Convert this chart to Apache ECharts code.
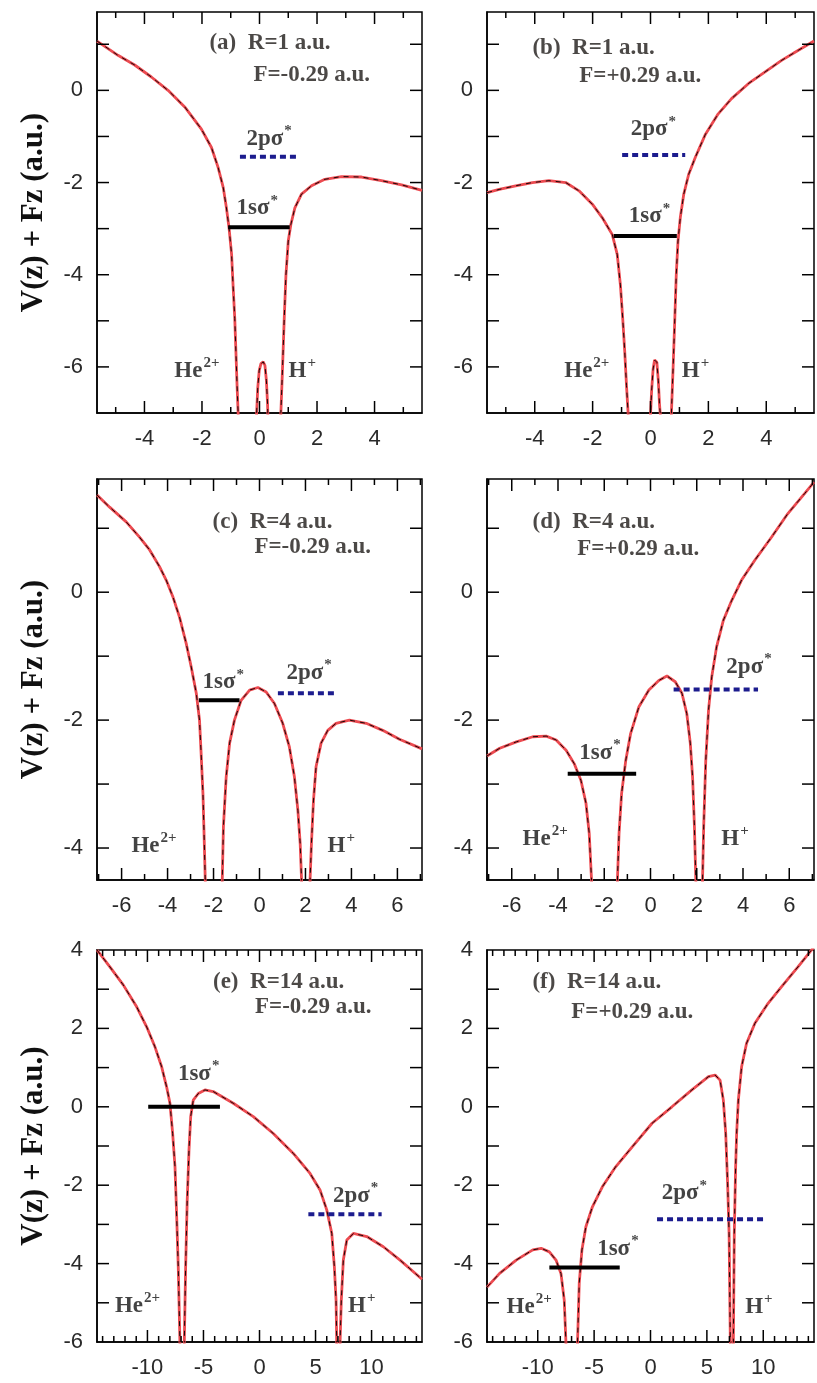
<!DOCTYPE html>
<html>
<head>
<meta charset="utf-8">
<script src="https://cdn.jsdelivr.net/npm/echarts@6/dist/echarts.min.js"></script>
<style>
  html, body { margin: 0; padding: 0; background: #fff; }
  #chart { width: 817px; height: 1383px; }
</style>
</head>
<body>
<div id="chart"></div>
<script>
// Potential curves V(z) + Fz, [z, value] pairs in atomic units.
// Points below the axis minimum mark where the curve leaves through the nuclear dips.
const curveA = [
  [-5.65, 1.07], [-4.92, 0.76], [-4.34, 0.55], [-3.76, 0.29], [-3.18, 0.0], [-2.60, -0.36],
  [-2.02, -0.84], [-1.67, -1.24], [-1.44, -1.67], [-1.26, -2.11], [-1.15, -2.55], [-1.06, -2.98],
  [-0.97, -3.56], [-0.92, -4.22], [-0.86, -4.95], [-0.82, -5.67], [-0.78, -6.40], [-0.74, -7.04], [-0.71, -7.5],
  [-0.12, -7.5], [-0.10, -7.0], [-0.06, -6.45], [-0.01, -6.08], [0.05, -5.93], [0.13, -5.89], [0.19, -5.97],
  [0.24, -6.3], [0.28, -6.8], [0.31, -7.5],
  [0.72, -7.5], [0.74, -7.05], [0.80, -6.04], [0.86, -4.95], [0.92, -4.0], [1.00, -3.27], [1.09, -2.91],
  [1.23, -2.55], [1.46, -2.25], [1.81, -2.07], [2.27, -1.93], [2.85, -1.87], [3.55, -1.88], [4.24, -1.96],
  [4.94, -2.05], [5.65, -2.17]
];
const curveB = [
  [-5.65, -2.22], [-5.23, -2.15], [-4.66, -2.07], [-4.08, -2.0], [-3.51, -1.96], [-2.93, -2.0], [-2.47, -2.18],
  [-2.01, -2.47], [-1.67, -2.76], [-1.32, -3.13], [-1.15, -3.56], [-1.04, -4.22], [-0.96, -4.95], [-0.89, -5.67],
  [-0.83, -6.40], [-0.77, -7.04], [-0.74, -7.5],
  [-0.02, -7.5], [0.0, -7.04], [0.04, -6.5], [0.09, -6.05], [0.14, -5.85], [0.18, -5.82], [0.22, -5.9],
  [0.27, -6.3], [0.31, -6.8], [0.34, -7.04], [0.36, -7.5],
  [0.70, -7.5], [0.72, -7.04], [0.78, -6.04], [0.84, -4.95], [0.89, -4.0], [0.95, -3.27], [1.03, -2.76],
  [1.15, -2.25], [1.32, -1.82], [1.55, -1.45], [1.90, -0.95], [2.34, -0.51], [2.80, -0.18], [3.39, 0.15],
  [3.96, 0.40], [4.53, 0.65], [5.11, 0.87], [5.65, 1.07]
];
const curveC = [
  [-7.07, 1.52], [-6.52, 1.33], [-5.80, 1.10], [-5.22, 0.86], [-4.78, 0.66], [-4.35, 0.40], [-4.06, 0.19],
  [-3.77, -0.07], [-3.48, -0.39], [-3.19, -0.80], [-2.97, -1.17], [-2.75, -1.58], [-2.61, -2.0], [-2.54, -2.52],
  [-2.46, -3.15], [-2.42, -3.67], [-2.36, -4.5], [-2.33, -5.0],
  [-1.65, -5.0], [-1.62, -4.5], [-1.57, -3.67], [-1.45, -2.89], [-1.30, -2.36], [-1.09, -2.0], [-0.80, -1.69],
  [-0.43, -1.53], [-0.07, -1.49], [0.29, -1.56], [0.65, -1.74], [1.01, -2.05], [1.30, -2.42], [1.52, -2.89],
  [1.67, -3.41], [1.77, -3.93], [1.83, -4.5], [1.86, -5.0],
  [2.17, -5.0], [2.20, -4.5], [2.26, -3.93], [2.35, -3.25], [2.46, -2.73], [2.68, -2.36], [2.97, -2.16],
  [3.33, -2.05], [3.91, -2.0], [4.64, -2.05], [5.36, -2.16], [6.09, -2.30], [7.07, -2.45]
];
const curveD = [
  [-7.07, -2.56], [-6.52, -2.44], [-5.80, -2.34], [-5.09, -2.26], [-4.51, -2.25], [-4.08, -2.31], [-3.65, -2.47],
  [-3.30, -2.68], [-3.01, -2.94], [-2.79, -3.30], [-2.65, -3.77], [-2.55, -4.5], [-2.52, -5.0],
  [-1.46, -5.0], [-1.43, -4.5], [-1.36, -3.77], [-1.25, -3.15], [-1.07, -2.63], [-0.86, -2.21], [-0.50, -1.79],
  [-0.07, -1.53], [0.36, -1.38], [0.71, -1.31], [1.07, -1.40], [1.36, -1.58], [1.57, -1.90], [1.72, -2.36],
  [1.82, -2.89], [1.90, -3.67], [1.96, -4.5], [1.98, -5.0],
  [2.23, -5.0], [2.25, -4.5], [2.30, -3.67], [2.39, -2.63], [2.51, -1.84], [2.65, -1.32], [2.86, -0.85],
  [3.15, -0.44], [3.51, -0.13], [3.94, 0.19], [4.51, 0.50], [5.23, 0.86], [5.94, 1.23], [6.66, 1.54], [7.07, 1.72]
];
const curveE = [
  [-14.5, 4.0], [-13.35, 3.57], [-12.16, 3.11], [-10.96, 2.55], [-10.07, 2.04], [-9.33, 1.53], [-8.73, 1.02],
  [-8.29, 0.51], [-7.99, 0.09], [-7.75, -0.68], [-7.54, -1.53], [-7.39, -2.80], [-7.25, -4.08], [-7.10, -6.0], [-7.07, -6.5],
  [-6.74, -6.5], [-6.71, -6.0], [-6.59, -4.08], [-6.45, -2.38], [-6.29, -1.10], [-6.14, -0.25], [-5.91, 0.17],
  [-5.46, 0.34], [-4.87, 0.43], [-4.13, 0.39], [-2.34, 0.09], [-0.55, -0.25], [1.23, -0.68], [3.02, -1.19],
  [4.51, -1.70], [5.40, -2.12], [6.00, -2.63], [6.45, -3.23], [6.68, -4.08], [6.83, -4.93], [6.89, -6.0], [6.91, -6.5],
  [7.17, -6.5], [7.19, -6.0], [7.30, -4.93], [7.48, -3.91], [7.79, -3.40], [8.38, -3.23], [9.57, -3.31],
  [11.05, -3.57], [12.54, -3.91], [14.5, -4.4]
];
const curveF = [
  [-14.5, -4.6], [-13.38, -4.25], [-11.91, -3.91], [-10.44, -3.65], [-9.70, -3.61], [-8.97, -3.70], [-8.38, -3.91],
  [-7.94, -4.25], [-7.65, -4.93], [-7.50, -6.0], [-7.47, -6.5],
  [-6.50, -6.5], [-6.47, -6.0], [-6.32, -4.50], [-6.08, -3.65], [-5.73, -3.06], [-5.15, -2.55], [-4.27, -2.04],
  [-3.09, -1.53], [-1.62, -1.02], [0.14, -0.42], [1.90, 0.0], [3.67, 0.43], [5.14, 0.77], [5.73, 0.81],
  [6.17, 0.68], [6.46, 0.17], [6.67, -0.68], [6.84, -1.96], [6.97, -3.23], [7.08, -6.0], [7.10, -6.5],
  [7.33, -6.5], [7.35, -6.0], [7.43, -3.23], [7.55, -1.53], [7.64, -0.68], [7.79, 0.17], [8.08, 1.02],
  [8.52, 1.62], [9.26, 2.13], [10.43, 2.64], [11.61, 3.06], [13.08, 3.57], [14.5, 4.08]
];

// Quasi-static levels per panel: energy and z extent.
const level1sE = [-2.97, -3.16, -1.69, -2.84, 0.0, -4.10];
const level1sZ = [[-1.09, 1.05], [-1.27, 0.91], [-2.64, -0.87], [-3.58, -0.62], [-9.93, -3.53], [-8.97, -2.73]];
const level2pE = [-1.44, -1.40, -1.58, -1.52, -2.74, -2.87];
const level2pZ = [[-0.68, 1.40], [-0.98, 1.20], [0.80, 3.26], [1.00, 4.65], [4.36, 10.9], [0.58, 10.1]];

// Panel captions
const panelTags = ['(a)', '(b)', '(c)', '(d)', '(e)', '(f)'];
const separations = ['R=1 a.u.', 'R=1 a.u.', 'R=4 a.u.', 'R=4 a.u.', 'R=14 a.u.', 'R=14 a.u.'];
const fields = ['F=-0.29 a.u.', 'F=+0.29 a.u.', 'F=-0.29 a.u.', 'F=+0.29 a.u.', 'F=-0.29 a.u.', 'F=+0.29 a.u.'];

// Axis extents and tick steps
const xRanges = [[-5.65, 5.65], [-5.65, 5.65], [-7.07, 7.07], [-7.07, 7.07], [-14.5, 14.5], [-14.5, 14.5]];
const yRanges = [[-7, 1.7], [-7, 1.7], [-4.5, 1.77], [-4.5, 1.77], [-6, 4], [-6, 4]];
const xMajorStep = [2, 2, 2, 2, 5, 5];
const yLabelStep = 2;
const yAxisTitle = 'V(z) + Fz (a.u.)';

// Text anchors (left edge, vertical middle) in data coordinates
const tagPos   = [[-1.74, 1.03], [-4.08, 0.91], [-2.04, 1.10], [-5.10, 1.10], [-4.15, 3.18], [-10.47, 3.18]];
const fieldPos = [[-0.21, 0.34], [-2.46, 0.31], [-0.22, 0.70], [-3.17, 0.67], [-0.40, 2.55], [-7.03, 2.41]];
const s1Pos    = [[-0.80, -2.56], [-0.75, -2.73], [-2.48, -1.41], [-3.08, -2.51], [-7.28, 0.84], [-4.73, -3.63]];
const p2Pos    = [[-0.45, -1.05], [-0.68, -0.85], [1.17, -1.26], [3.28, -1.17], [6.56, -2.27], [1.00, -2.21]];
const hePos    = [[-2.96, -6.09], [-2.98, -6.09], [-5.57, -3.97], [-5.53, -3.86], [-12.9, -5.08], [-12.76, -5.10]];
const hPos     = [[1.01, -6.09], [1.08, -6.09], [2.96, -3.97], [3.06, -3.86], [7.9, -5.08], [8.40, -5.10]];

const curves = [curveA, curveB, curveC, curveD, curveE, curveF];

const gridBoxes = [
  { left: 97,  top: 12,  width: 325, height: 401 },
  { left: 487, top: 12,  width: 329, height: 401 },
  { left: 97,  top: 479, width: 325, height: 401 },
  { left: 487, top: 479, width: 329, height: 401 },
  { left: 97,  top: 950, width: 325, height: 392 },
  { left: 487, top: 950, width: 329, height: 392 }
];

const serif = '"Liberation Serif", "Times New Roman", serif';
const sans = '"Liberation Sans", Arial, Helvetica, sans-serif';
const MAJOR_LEN = 12, MINOR_LEN = 6;

function isInt(v) { return Math.abs(v - Math.round(v)) < 1e-6; }
function frameLine() { return { show: true, onZero: false, lineStyle: { color: '#000', width: 1.5 } }; }

const richText = {
  m: { fontFamily: serif, fontWeight: 'bold', fontSize: 23, lineHeight: 30, color: '#141414' },
  s: { fontFamily: serif, fontWeight: 'bold', fontSize: 15, lineHeight: 15, verticalAlign: 'top', color: '#141414', padding: [0, 0, 0, 1] },
  c: { fontFamily: serif, fontWeight: 'bold', fontSize: 23, lineHeight: 30, color: '#1e1a18' }
};

// Inward tick marks on all four sides of a panel, placed through the panel's axes.
function tickMarks(i, ax) {
  const [x0, x1] = xRanges[i], [y0, y1] = yRanges[i];
  const items = [];
  for (let v = Math.ceil(x0); v <= x1; v++) {
    if (v > x0 && v < x1) items.push([v, v % xMajorStep[i] === 0 ? 1 : 0, 0]);
  }
  for (let v = Math.ceil(y0); v <= y1; v++) {
    if (v > y0 && v < y1) items.push([v, 1, 1]);
  }
  return Object.assign({
    type: 'custom', silent: true, z: 6, clip: false, data: items,
    renderItem: (params, api) => {
      const v = api.value(0), major = api.value(1), dir = api.value(2);
      const len = major ? MAJOR_LEN : MINOR_LEN;
      const st = { stroke: '#000', lineWidth: 1.5 };
      if (dir === 0) {
        const b = api.coord([v, y0]), t = api.coord([v, y1]);
        return { type: 'group', children: [
          { type: 'line', shape: { x1: b[0], y1: b[1], x2: b[0], y2: b[1] - len }, style: st },
          { type: 'line', shape: { x1: t[0], y1: t[1], x2: t[0], y2: t[1] + len }, style: st }
        ] };
      }
      const l = api.coord([x0, v]), r = api.coord([x1, v]);
      return { type: 'group', children: [
        { type: 'line', shape: { x1: l[0], y1: l[1], x2: l[0] + len, y2: l[1] }, style: st },
        { type: 'line', shape: { x1: r[0], y1: r[1], x2: r[0] - len, y2: r[1] }, style: st }
      ] };
    }
  }, ax);
}

const grids = [], xAxes = [], yAxes = [], series = [];

gridBoxes.forEach((box, i) => {
  grids.push(Object.assign({
    show: true, borderColor: '#000', borderWidth: 1.5, containLabel: false
  }, box));

  const step = xMajorStep[i];
  xAxes.push({
    gridIndex: i, type: 'value', position: 'bottom', min: xRanges[i][0], max: xRanges[i][1],
    minInterval: step, maxInterval: step,
    axisLine: frameLine(), axisTick: { show: false }, minorTick: { show: false },
    splitLine: { show: false },
    axisLabel: {
      show: true, margin: 15, fontFamily: sans, fontSize: 22, color: '#2a2a2a',
      formatter: v => (isInt(v) && Math.round(v) % step === 0) ? String(Math.round(v)) : ''
    }
  });

  const yLeft = {
    gridIndex: i, type: 'value', position: 'left', min: yRanges[i][0], max: yRanges[i][1],
    minInterval: 1, maxInterval: 1,
    axisLine: frameLine(), axisTick: { show: false }, splitLine: { show: false },
    axisLabel: {
      show: true, margin: 14, fontFamily: sans, fontSize: 22, color: '#2a2a2a',
      formatter: v => (isInt(v) && Math.round(v) % yLabelStep === 0) ? String(Math.round(v)) : ''
    }
  };
  if (i % 2 === 0) {
    Object.assign(yLeft, {
      name: yAxisTitle, nameLocation: 'middle', nameRotate: 90, nameGap: 48,
      nameTextStyle: { fontFamily: serif, fontWeight: 'bold', fontSize: 31, color: '#111' }
    });
  }
  yAxes.push(yLeft);

  const ax = { xAxisIndex: i, yAxisIndex: i };

  // potential curve: red line with a black dashed overlay
  series.push(Object.assign({
    type: 'line', data: curves[i], symbol: 'none', clip: true, silent: true,
    lineStyle: { color: '#ec4a50', width: 2.8 }, z: 2
  }, ax));
  series.push(Object.assign({
    type: 'line', data: curves[i], symbol: 'none', clip: true, silent: true,
    lineStyle: { color: '#000', width: 0.9, type: [5, 5] }, z: 3
  }, ax));

  // 1sσ* level (solid) and 2pσ* level (dashed)
  series.push(Object.assign({
    type: 'line', symbol: 'none', silent: true, z: 4,
    data: [[level1sZ[i][0], level1sE[i]], [level1sZ[i][1], level1sE[i]]],
    lineStyle: { color: '#000', width: 4 }
  }, ax));
  series.push(Object.assign({
    type: 'line', symbol: 'none', silent: true, z: 4,
    data: [[level2pZ[i][0], level2pE[i]], [level2pZ[i][1], level2pE[i]]],
    lineStyle: { color: '#1c1c8e', width: 4, type: [6, 4] }
  }, ax));

  // frame ticks
  series.push(tickMarks(i, ax));

  // text annotations
  const notes = [
    [tagPos[i], '{c|' + panelTags[i] + '  ' + separations[i] + '}'],
    [fieldPos[i], '{c|' + fields[i] + '}'],
    [s1Pos[i], '{m|1sσ}{s|*}'],
    [p2Pos[i], '{m|2pσ}{s|*}'],
    [hePos[i], '{m|He}{s|2+}'],
    [hPos[i], '{m|H}{s|+}']
  ];
  series.push(Object.assign({
    type: 'scatter', symbolSize: 0, silent: true, z: 5,
    data: notes.map(n => ({
      value: n[0],
      label: { show: true, position: 'right', distance: 0, formatter: n[1], rich: richText }
    }))
  }, ax));
});

const chart = echarts.init(document.getElementById('chart'));
chart.setOption({
  animation: false,
  grid: grids,
  xAxis: xAxes,
  yAxis: yAxes,
  series: series
});
</script>
</body>
</html>
